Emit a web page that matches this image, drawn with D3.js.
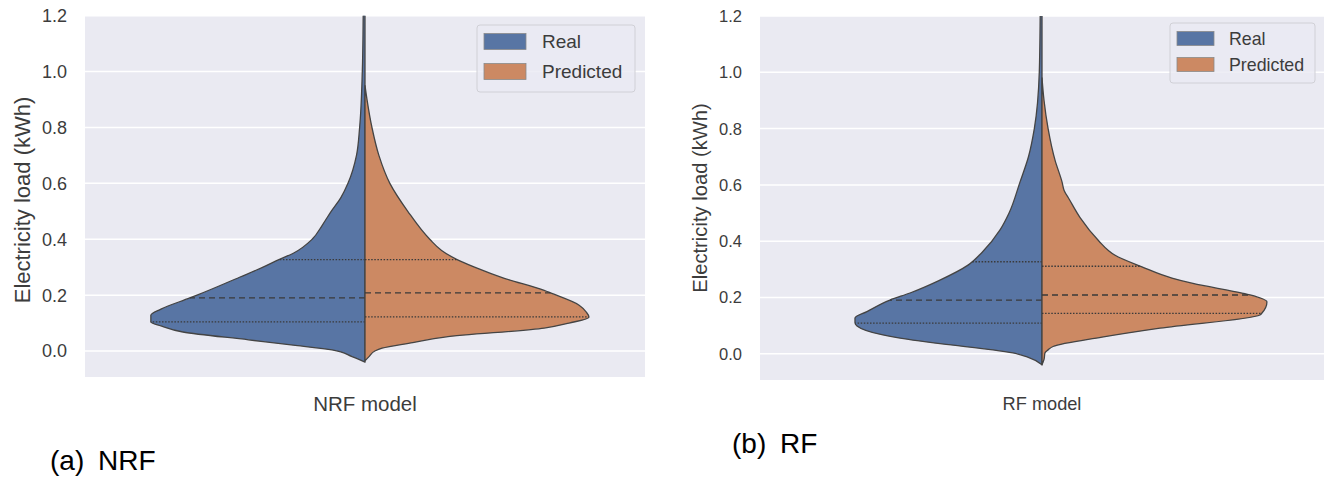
<!DOCTYPE html>
<html>
<head>
<meta charset="utf-8">
<script src="https://cdn.jsdelivr.net/npm/d3@7"></script>
<style>
  body { margin: 0; background: #fff; }
  text { font-family: "Liberation Sans", Arial, sans-serif; }
</style>
</head>
<body>
<svg id="chart" width="1329" height="477"></svg>
<script>
// y axis ticks (kWh)
const yTicks = [0.0, 0.2, 0.4, 0.6, 0.8, 1.0, 1.2];
const groups = ["Real", "Predicted"];
const colors = ["#5875a4", "#cc8963"];

// violin outlines: [load (kWh), relative density]
const nrfReal = [[-0.04,0],[-0.02,0.058],[0.004,0.147],[0.02,0.311],[0.04,0.52],[0.068,0.813],[0.09,0.911],
  [0.104,0.956],[0.128,0.956],[0.15,0.911],[0.19,0.782],[0.2,0.75],[0.264,0.56],[0.3,0.455],[0.328,0.382],
  [0.35,0.32],[0.4,0.236],[0.45,0.191],[0.5,0.151],[0.55,0.107],[0.6,0.076],[0.7,0.038],[0.8,0.024],
  [1.0,0.012],[1.2,0.008],[1.3,0.007]];
const nrfPred = [[-0.035,0],[-0.02,0.018],[0.0,0.044],[0.01,0.076],[0.03,0.213],[0.05,0.356],[0.082,0.8],
  [0.1,0.911],[0.121,1.0],[0.14,0.987],[0.164,0.956],[0.207,0.831],[0.217,0.8],[0.26,0.622],[0.3,0.489],
  [0.328,0.409],[0.36,0.342],[0.4,0.289],[0.5,0.191],[0.6,0.111],[0.7,0.062],[0.8,0.031],[0.9,0.009],[0.95,0]];
const rfReal = [[-0.039,0],[-0.011,0.066],[0.003,0.129],[0.014,0.217],[0.035,0.443],[0.06,0.66],[0.067,0.705],
  [0.099,0.82],[0.11,0.829],[0.127,0.829],[0.15,0.776],[0.191,0.674],[0.216,0.585],[0.26,0.457],[0.315,0.328],
  [0.36,0.266],[0.44,0.186],[0.5,0.146],[0.609,0.098],[0.7,0.06],[0.8,0.034],[1.0,0.012],[1.2,0.008],[1.3,0.007]];
const rfPred = [[-0.039,0],[-0.02,0.009],[0.003,0.013],[0.014,0.027],[0.026,0.049],[0.059,0.266],[0.091,0.523],
  [0.138,0.966],[0.145,0.975],[0.184,0.997],[0.209,0.922],[0.215,0.891],[0.25,0.669],[0.269,0.576],[0.309,0.443],
  [0.35,0.324],[0.368,0.293],[0.4,0.253],[0.485,0.168],[0.55,0.12],[0.58,0.098],[0.61,0.089],[0.687,0.058],
  [0.8,0.027],[0.9,0.009],[0.98,0]];

// quartiles [q1, median, q3]
const nrfRealQ = [0.104, 0.19, 0.327];
const nrfPredQ = [0.122, 0.208, 0.327];
const rfRealQ = [0.109, 0.191, 0.327];
const rfPredQ = [0.144, 0.209, 0.311];

const svg = d3.select("#chart");

const panels = [
  {id: "a", model: "NRF model", caption: ["(a)", "NRF"], data: [nrfReal, nrfPred], q: [nrfRealQ, nrfPredQ],
   x: 85, y: 15.7, w: 560, h: 361.3, tickX: 67, tickSize: 18, labSize: 22, labX: 22, labY: 200,
   xlabSize: 20.5, xlabY: 411, legSize: 19, leg: {x: 477, y: 25, w: 158, h: 67, px: 484, pw: 42, ph: 16, tx: 542, rows: [41.5, 71.5]},
   capY: 470, capX: [50, 98]},
  {id: "b", model: "RF model", caption: ["(b)", "RF"], data: [rfReal, rfPred], q: [rfRealQ, rfPredQ],
   x: 760, y: 16, w: 564, h: 364, tickX: 742, tickSize: 16.5, labSize: 20.2, labX: 700, labY: 198,
   xlabSize: 18.2, xlabY: 410, legSize: 17.8, leg: {x: 1170, y: 23, w: 145, h: 60, px: 1177, pw: 37, ph: 14, tx: 1229, rows: [38.5, 64.5]},
   capY: 453, capX: [732, 780]}
];

let widthAt = function(prof, v){
  for(let i = 0; i < prof.length - 1; i++){
    let a = prof[i], b = prof[i+1];
    if(v >= a[0] && v <= b[0]) return a[1] + (b[1]-a[1]) * (v-a[0]) / (b[0]-a[0]);
  }
  return 0;
};

panels.forEach(p => {
  let g = svg.append("g");
  let y = d3.scaleLinear().domain([-0.093, 1.2]).range([p.y + p.h, p.y]);
  let x = d3.scaleBand().domain([p.model]).range([p.x, p.x + p.w]);
  let cx = x(p.model) + x.bandwidth() / 2;
  let wd = d3.scaleLinear().domain([0, 1]).range([0, x.bandwidth() * 0.4]);

  g.append("rect").attr("x", p.x).attr("y", p.y).attr("width", p.w).attr("height", p.h).attr("fill", "#eaeaf2");

  g.selectAll(".grid").data(yTicks).enter().append("line")
    .attr("x1", p.x).attr("x2", p.x + p.w)
    .attr("y1", d => y(d)).attr("y2", d => y(d))
    .attr("stroke", "#fff").attr("stroke-width", 1.5);

  g.selectAll(".tick").data(yTicks).enter().append("text")
    .attr("x", p.tickX).attr("y", d => y(d)).attr("dy", "0.36em")
    .attr("text-anchor", "end").attr("font-size", p.tickSize).attr("fill", "#3c3c3c")
    .text(d => d.toFixed(1));

  g.append("text")
    .attr("transform", `translate(${p.labX},${p.labY}) rotate(-90)`)
    .attr("dy", "0.36em").attr("text-anchor", "middle")
    .attr("font-size", p.labSize).attr("fill", "#3c3c3c")
    .text("Electricity load (kWh)");

  g.append("text").attr("x", cx).attr("y", p.xlabY).attr("text-anchor", "middle")
    .attr("font-size", p.xlabSize).attr("fill", "#3c3c3c").text(p.model);

  g.append("clipPath").attr("id", "clip-" + p.id).append("rect")
    .attr("x", p.x).attr("y", p.y).attr("width", p.w).attr("height", p.h);

  let vg = g.append("g").attr("clip-path", `url(#clip-${p.id})`);

  p.data.forEach((prof, k) => {
    let side = k === 0 ? -1 : 1;
    // top to bottom so screen y increases for the monotone curve
    let pts = prof.slice().reverse();
    let area = d3.area()
      .y(d => y(d[0]))
      .x0(cx)
      .x1(d => cx + side * wd(d[1]))
      .curve(d3.curveMonotoneY);
    vg.append("path").datum(pts)
      .attr("d", area)
      .attr("fill", colors[k])
      .attr("stroke", "#444").attr("stroke-width", 1.3).attr("stroke-linejoin", "round");

    p.q[k].forEach((qv, j) => {
      vg.append("line")
        .attr("x1", cx).attr("x2", cx + side * wd(widthAt(prof, qv)))
        .attr("y1", y(qv)).attr("y2", y(qv))
        .attr("stroke", "#3a3a3a").attr("stroke-width", 1.3)
        .attr("stroke-dasharray", j === 1 ? "6,4" : "1.5,1.6");
    });
  });

  let L = p.leg;
  g.append("rect").attr("x", L.x).attr("y", L.y).attr("width", L.w).attr("height", L.h)
    .attr("rx", 3).attr("fill", "#eaeaf2").attr("fill-opacity", 0.8).attr("stroke", "#d0d0d6");
  groups.forEach((name, k) => {
    g.append("rect").attr("x", L.px).attr("y", L.rows[k] - L.ph / 2).attr("width", L.pw).attr("height", L.ph)
      .attr("fill", colors[k]).attr("stroke", "#8a8a8a").attr("stroke-width", 0.8);
    g.append("text").attr("x", L.tx).attr("y", L.rows[k]).attr("dy", "0.36em")
      .attr("font-size", p.legSize).attr("fill", "#3c3c3c").text(name);
  });

  g.append("text").attr("x", p.capX[0]).attr("y", p.capY).attr("font-size", 28).attr("fill", "#000").text(p.caption[0]);
  g.append("text").attr("x", p.capX[1]).attr("y", p.capY).attr("font-size", 28).attr("fill", "#000").text(p.caption[1]);
});
</script>
</body>
</html>
